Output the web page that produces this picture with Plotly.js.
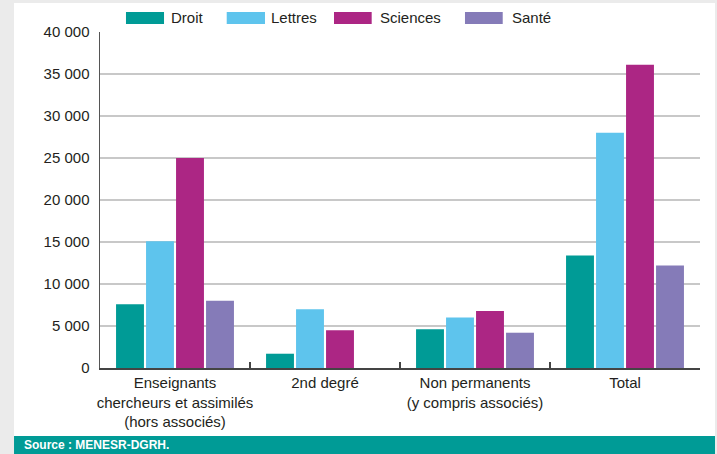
<!DOCTYPE html>
<html>
<head>
<meta charset="utf-8">
<script src="https://cdn.plot.ly/plotly-3.0.1.min.js"></script>
<style>
  html, body { margin: 0; padding: 0; background: #ebebeb; }
  #chart { width: 717px; height: 454px; }
</style>
</head>
<body>
<div id="chart"></div>
<script>
// ---- Data ----
const categories = [
  "Enseignants<br>chercheurs et assimilés<br>(hors associés)",
  "2nd degré",
  "Non permanents<br>(y compris associés)",
  "Total"
];
const seriesNames = ["Droit", "Lettres", "Sciences", "Santé"];
const droit    = [7600, 1700, 4600, 13400];
const lettres  = [15100, 7000, 6000, 28000];
const sciences = [25000, 4500, 6800, 36100];
const sante    = [8000, null, 4200, 12200];
const seriesValues = [droit, lettres, sciences, sante];
const seriesColors = ["#009b96", "#5ec4ed", "#ac2684", "#857bb8"];
const sourceText = "Source : MENESR-DGRH.";

// ---- Traces ----
const traces = seriesNames.map((name, i) => ({
  type: "bar",
  name: name,
  x: categories,
  y: seriesValues[i],
  marker: { color: seriesColors[i], line: { width: 0 } },
  hoverinfo: "x+y+name"
}));

// ---- Custom legend (wide swatches) ----
const legSwatchX = [[0.0433, 0.1067], [0.2112, 0.275], [0.39, 0.4528], [0.6083, 0.6712]];
const legTextX = [0.1155, 0.2812, 0.4628, 0.6833];

const shapes = [
  // white panel
  { type: "rect", xref: "paper", yref: "paper", x0: -0.1433, x1: 1.025, y0: -0.2024, y1: 1.0863,
    fillcolor: "#ffffff", line: { width: 0 }, layer: "below" },
  // teal source band
  { type: "rect", xref: "paper", yref: "paper", x0: -0.1433, x1: 1.025, y0: -0.275, y1: -0.2024,
    fillcolor: "#009b96", line: { width: 0 }, layer: "below" }
];
seriesNames.forEach((n, i) => {
  shapes.push({ type: "rect", xref: "paper", yref: "paper",
    x0: legSwatchX[i][0], x1: legSwatchX[i][1], y0: 1.0238, y1: 1.0595,
    fillcolor: seriesColors[i], line: { width: 0 } });
});

const annotations = seriesNames.map((n, i) => ({
  xref: "paper", yref: "paper", x: legTextX[i], y: 1.0417,
  xanchor: "left", yanchor: "middle", showarrow: false, text: n,
  font: { family: "Liberation Sans, Arial, sans-serif", size: 15, color: "#231f20" }
}));
annotations.push({
  xref: "paper", yref: "paper", x: -0.13, y: -0.2292,
  xanchor: "left", yanchor: "middle", showarrow: false, text: "<b>" + sourceText + "</b>",
  font: { family: "Liberation Sans, Arial, sans-serif", size: 12, color: "#ffffff" }
});

const layout = {
  width: 717, height: 454,
  margin: { l: 100, r: 17, t: 32, b: 86, pad: 0 },
  paper_bgcolor: "#ebebeb",
  plot_bgcolor: "#ffffff",
  showlegend: false,
  barmode: "group",
  bargap: 0.2,
  bargroupgap: 0.07,
  separators: ", ",
  font: { family: "Liberation Sans, Arial, sans-serif", size: 15, color: "#231f20" },
  xaxis: {
    type: "category",
    tickson: "boundaries",
    ticks: "inside",
    ticklen: 6,
    tickwidth: 2,
    tickcolor: "#444444",
    tickangle: 0,
    ticklabelstandoff: 0,
    showline: true,
    linecolor: "#444444",
    linewidth: 2,
    showgrid: false,
    tickfont: { size: 15, color: "#231f20" },
    fixedrange: true
  },
  yaxis: {
    range: [0, 40000],
    dtick: 5000,
    tick0: 0,
    tickformat: ",d",
    showline: true,
    linecolor: "#555555",
    linewidth: 1.5,
    ticks: "",
    ticklabelstandoff: 6,
    showgrid: true,
    gridcolor: "#c8c8c8",
    gridwidth: 1.5,
    zeroline: false,
    tickfont: { size: 15, color: "#231f20" },
    fixedrange: true
  },
  shapes: shapes,
  annotations: annotations
};

Plotly.newPlot("chart", traces, layout, { displayModeBar: false, staticPlot: true });
</script>
</body>
</html>
